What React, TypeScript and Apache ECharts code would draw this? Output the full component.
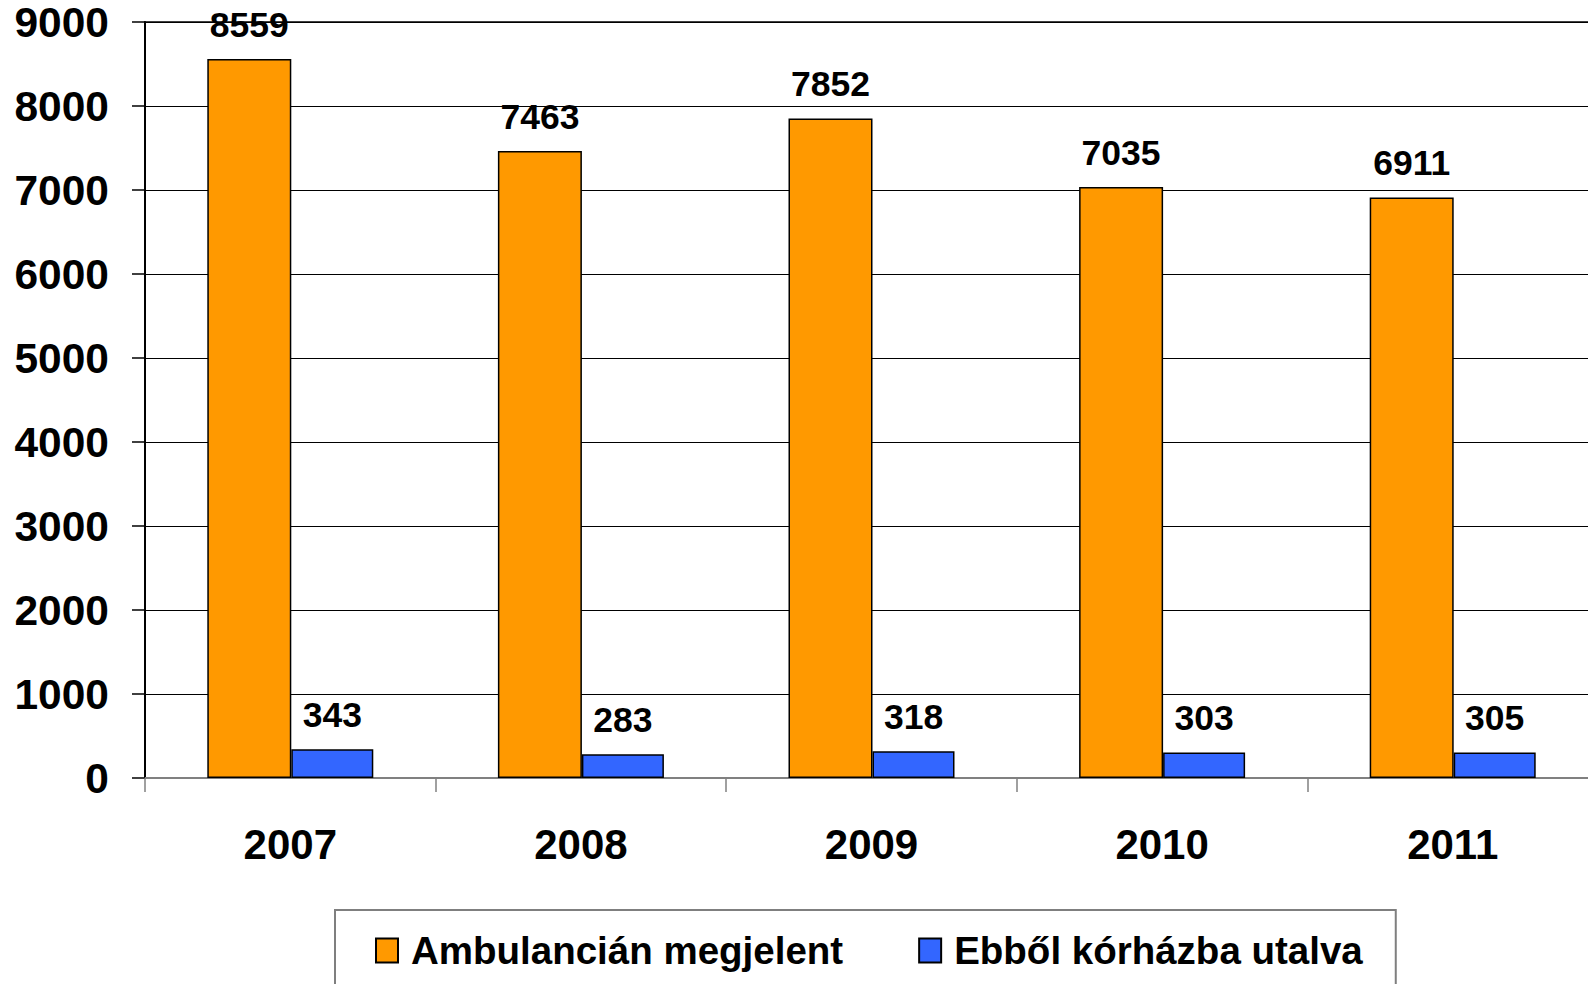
import React, { useEffect, useRef } from "react";
import * as echarts from "echarts";

const years = ["2007", "2008", "2009", "2010", "2011"];
const ambulancia = [8559, 7463, 7852, 7035, 6911];
const korhaz = [343, 283, 318, 303, 305];
const seriesNames = ["Ambulancián megjelent", "Ebből kórházba utalva"];
const yTicks = { min: 0, max: 9000, interval: 1000 };

const FONT = "'Liberation Sans', Arial, sans-serif";

export default function App() {
  const ref = useRef<HTMLDivElement>(null);
  useEffect(() => {
    document.body.style.margin = "0";
    const chart = echarts.init(ref.current!, null, { renderer: "svg" });
    const labelStyle = {
      show: true,
      position: "top",
      distance: 17,
      fontFamily: FONT,
      fontWeight: "bold",
      fontSize: 35.5,
      lineHeight: 35,
      color: "#000",
    };
    chart.setOption({
      animation: false,
      backgroundColor: "#fff",
      grid: {
        left: 145,
        top: 22,
        bottom: 206,
        width: 1453,
        outerBoundsMode: "none",
        containLabel: false,
        show: true,
        borderColor: "#000",
        borderWidth: 1.5,
      },
      legend: {
        left: 335,
        top: 910,
        padding: [21, 33, 40, 40],
        borderColor: "#7f7f7f",
        borderWidth: 2,
        icon: "rect",
        itemWidth: 22,
        itemHeight: 24,
        itemGap: 75,
        textStyle: {
          fontFamily: FONT,
          fontWeight: "bold",
          fontSize: 38.5,
          lineHeight: 38,
          color: "#000",
          padding: [0, 0, 0, 8],
        },
        data: seriesNames,
      },
      xAxis: {
        type: "category",
        data: years,
        axisLine: { lineStyle: { color: "#808080", width: 2 } },
        axisTick: { show: true, length: 14, lineStyle: { color: "#808080", width: 1.5 } },
        axisLabel: {
          fontFamily: FONT,
          fontWeight: "bold",
          fontSize: 42,
          lineHeight: 42,
          color: "#000",
          margin: 45,
        },
      },
      yAxis: {
        type: "value",
        min: yTicks.min,
        max: yTicks.max,
        interval: yTicks.interval,
        axisLine: { show: true, lineStyle: { color: "#000", width: 2 } },
        axisTick: { show: true, length: 13, lineStyle: { color: "#000", width: 1.5 } },
        splitLine: { show: true, lineStyle: { color: "#000", width: 1 } },
        axisLabel: {
          fontFamily: FONT,
          fontWeight: "bold",
          fontSize: 42.5,
          color: "#000",
          margin: 36,
          formatter: (v: number) => String(v),
        },
      },
      series: [
        {
          name: seriesNames[0],
          type: "bar",
          data: ambulancia,
          barWidth: 84,
          barGap: "0%",
          itemStyle: { color: "#FF9900", borderColor: "#000", borderWidth: 1.5 },
          label: labelStyle,
        },
        {
          name: seriesNames[1],
          type: "bar",
          data: korhaz,
          barWidth: 82,
          barGap: "0%",
          itemStyle: { color: "#3366FF", borderColor: "#000", borderWidth: 1.5 },
          label: labelStyle,
        },
      ],
    });
    return () => chart.dispose();
  }, []);
  return <div ref={ref} style={{ width: 1588, height: 984 }} />;
}
